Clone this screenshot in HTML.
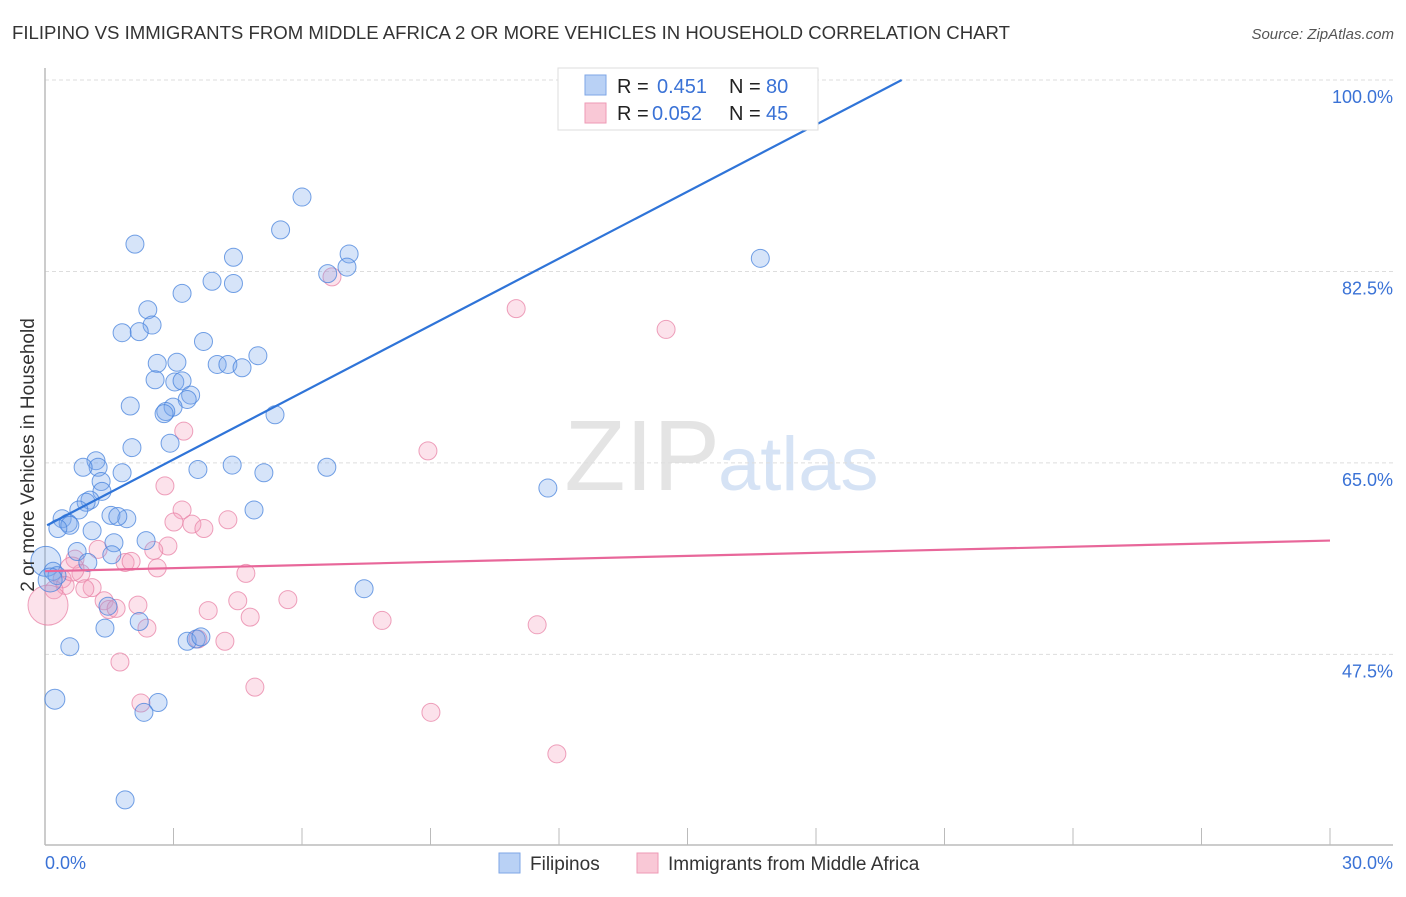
<!DOCTYPE html>
<html><head><meta charset="utf-8"><style>
body{margin:0;background:#fff;font-family:"Liberation Sans",sans-serif;}
svg text{font-family:"Liberation Sans",sans-serif;}
</style></head><body>
<svg id="chart" width="1406" height="892" xmlns="http://www.w3.org/2000/svg">
<text x="12" y="39" font-size="18" fill="#333" textLength="998" lengthAdjust="spacingAndGlyphs">FILIPINO VS IMMIGRANTS FROM MIDDLE AFRICA 2 OR MORE VEHICLES IN HOUSEHOLD CORRELATION CHART</text>
<text x="1394" y="39" font-size="15" fill="#555" font-style="italic" text-anchor="end">Source: ZipAtlas.com</text>
<text x="720" y="490" font-size="100" fill="#e4e4e4" font-family="Liberation Serif" text-anchor="end">ZIP</text>
<text x="718" y="490" font-size="76" fill="#d6e3f5">atlas</text>
<g id="grid"></g>
<g id="axes"></g>
<g id="pts"></g>
<g id="lines"></g>
<text transform="translate(34,455) rotate(-90)" font-size="19" fill="#333" text-anchor="middle">2 or more Vehicles in Household</text>
<text x="45" y="869" font-size="18" fill="#3a72d6">0.0%</text>
<text x="1393" y="869" font-size="18" fill="#3a72d6" text-anchor="end">30.0%</text>
<g>
<rect x="558" y="68" width="260" height="62" fill="#fff" stroke="#ddd"/>
<rect x="585" y="75" width="21" height="20" fill="#b9d1f5" stroke="#7ea6e6"/>
<rect x="585" y="103" width="21" height="20" fill="#f9c8d6" stroke="#ee9ab5"/>
<text x="617" y="93" font-size="20" fill="#222">R =</text><text x="657" y="93" font-size="20" fill="#3a72d6">0.451</text>
<text x="729" y="93" font-size="20" fill="#222">N =</text><text x="766" y="93" font-size="20" fill="#3a72d6">80</text>
<text x="617" y="120" font-size="20" fill="#222">R =</text><text x="652" y="120" font-size="20" fill="#3a72d6">0.052</text>
<text x="729" y="120" font-size="20" fill="#222">N =</text><text x="766" y="120" font-size="20" fill="#3a72d6">45</text>
</g>
<g>
<rect x="499" y="853" width="21" height="20" fill="#b9d1f5" stroke="#7ea6e6"/>
<text x="530" y="870" font-size="19" fill="#333">Filipinos</text>
<rect x="637" y="853" width="21" height="20" fill="#f9c8d6" stroke="#ee9ab5"/>
<text x="668" y="870" font-size="19" fill="#333">Immigrants from Middle Africa</text>
</g>
</svg>
<script>
const yTicks=[100,82.5,65,47.5];
const yTickLabels=["100.0%","82.5%","65.0%","47.5%"];
const xTicks=[0,3,6,9,12,15,18,21,24,27,30];
const blueX=[2.1,6.0,5.5,7.1,4.4,7.05,6.6,3.9,4.4,3.2,2.4,2.5,1.8,2.2,16.7,3.7,4.97,3.08,2.62,4.02,4.27,4.6,2.57,3.03,3.2,3.4,3.32,1.99,2.99,2.82,2.78,5.37,2.92,2.03,1.19,1.24,0.89,1.8,4.37,5.11,6.58,3.57,11.74,1.31,1.33,1.05,0.96,0.79,4.88,1.54,1.91,1.7,0.4,0.54,0.58,0.3,1.1,2.36,1.61,0.75,1.0,1.56,0.02,0.19,0.28,7.45,1.47,2.2,1.4,0.58,3.32,3.53,3.64,0.23,2.64,2.31,1.87,0.12];
const blueY=[85.0,89.3,86.3,84.1,83.8,82.9,82.3,81.6,81.4,80.5,79.0,77.6,76.9,77.0,83.7,76.1,74.8,74.2,74.1,74.0,74.0,73.7,72.6,72.4,72.5,71.2,70.8,70.2,70.1,69.7,69.5,69.4,66.8,66.4,65.2,64.6,64.6,64.1,64.8,64.1,64.6,64.4,62.7,63.3,62.4,61.6,61.4,60.7,60.7,60.2,59.9,60.1,59.9,59.5,59.3,59.0,58.8,57.9,57.7,56.9,55.9,56.6,56.0,55.1,54.7,53.5,51.9,50.5,49.9,48.2,48.7,48.9,49.1,43.4,43.1,42.2,34.2,54.3];
const blueR=[9,9,9,9,9,9,9,9,9,9,9,9,9,9,9,9,9,9,9,9,9,9,9,9,9,9,9,9,9,9,9,9,9,9,9,9,9,9,9,9,9,9,9,9,9,9,9,9,9,9,9,9,9,9,9,9,9,9,9,9,9,9,15,9,9,9,9,9,9,9,9,9,9,10,9,9,9,12];
const pinkX=[6.7,11.0,14.5,3.24,8.94,2.8,3.2,3.01,3.43,3.71,4.27,2.87,2.54,1.24,0.7,1.87,2.01,2.62,4.69,0.84,0.4,0.47,1.1,0.93,0.21,0.07,1.38,1.49,2.17,1.66,4.5,3.81,5.67,4.79,7.87,11.49,2.38,3.57,4.2,1.75,4.9,2.24,9.01,11.95,0.63];
const pinkY=[82.0,79.1,77.2,67.9,66.1,62.9,60.7,59.6,59.4,59.0,59.8,57.4,57.0,57.1,56.2,55.9,56.0,55.4,54.9,54.9,54.4,53.8,53.6,53.5,53.4,52.0,52.4,51.6,52.0,51.7,52.4,51.5,52.5,50.9,50.6,50.2,49.9,48.9,48.7,46.8,44.5,43.05,42.2,38.4,55.3];
const pinkR=[9,9,9,9,9,9,9,9,9,9,9,9,9,9,9,9,9,9,9,9,9,9,9,9,9,20,9,9,9,9,9,9,9,9,9,9,9,9,9,9,9,9,9,9,12];
const blueLine=[[0.05,59.3],[20.0,100]];
const pinkLine=[[0,55.1],[30,57.9]];
const NS="http://www.w3.org/2000/svg";
const X0=45,X1=1330,XMIN=0,XMAX=30,Y100=80,PXPER=10.94;
function sx(v){return X0+(v-XMIN)/(XMAX-XMIN)*(X1-X0);}
function sy(v){return Y100+(100-v)*PXPER;}
function mk(tag,attrs,parent){const e=document.createElementNS(NS,tag);for(const k in attrs)e.setAttribute(k,attrs[k]);parent.appendChild(e);return e;}
const grid=document.getElementById('grid'),axes=document.getElementById('axes'),pts=document.getElementById('pts'),lines=document.getElementById('lines');
yTicks.forEach((t,i)=>{
 const l=mk('line',{x1:45,x2:1393,y1:sy(t),y2:sy(t),stroke:'#ddd','stroke-dasharray':'4,3'},grid);
 
 
 const tx=mk('text',{x:1393,y:sy(t)+23,'font-size':18,fill:'#3a72d6','text-anchor':'end'},grid);
 tx.textContent=yTickLabels[i];
 
 
});
const ya=mk('line',{x1:45,x2:45,y1:68,y2:845,stroke:'#bbb','stroke-width':1.5},axes);


const xa=mk('line',{x1:45,x2:1393,y1:845,y2:845,stroke:'#bbb','stroke-width':1.5},axes);


xTicks.forEach(t=>{
 const l=mk('line',{x1:sx(t),x2:sx(t),y1:828,y2:845,stroke:'#bbb'},axes);
 
 
});
function drawPts(xs,ys,rs,fill,stroke,name){
 xs.forEach((x,i)=>{
  const c=mk('circle',{cx:sx(x),cy:sy(ys[i]),r:rs[i],fill:fill,stroke:stroke,'stroke-width':1},pts);
  
  
 });
}
drawPts(pinkX,pinkY,pinkR,'rgba(244,160,188,0.3)','rgba(232,130,165,0.75)','pink-point');
drawPts(blueX,blueY,blueR,'rgba(120,165,235,0.3)','rgba(70,130,220,0.75)','blue-point');
const bl=mk('line',{x1:sx(blueLine[0][0]),y1:sy(blueLine[0][1]),x2:sx(blueLine[1][0]),y2:sy(blueLine[1][1]),stroke:'#2f74d8','stroke-width':2.2},lines);


const pl=mk('line',{x1:sx(pinkLine[0][0]),y1:sy(pinkLine[0][1]),x2:sx(pinkLine[1][0]),y2:sy(pinkLine[1][1]),stroke:'#e8679a','stroke-width':2.2},lines);


</script>
</body></html>
